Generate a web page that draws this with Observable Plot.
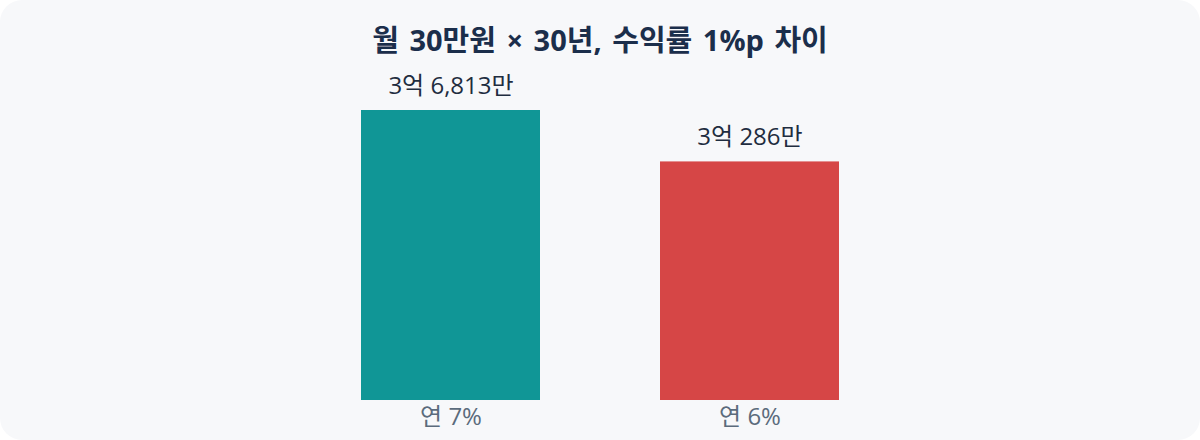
<!DOCTYPE html>
<html><head><meta charset="utf-8">
<script src="https://cdn.jsdelivr.net/npm/d3@7"></script>
<script src="https://cdn.jsdelivr.net/npm/@observablehq/plot@0.6"></script>
<style>
html,body{margin:0;padding:0;background:#ffffff;}
#card{position:relative;width:1200px;height:440px;background:#f7f8fa;border-radius:22px;overflow:hidden;font-family:"Open Sans","Noto Sans CJK KR",sans-serif;}
#title{position:absolute;left:0;top:0;width:1200px;height:50px;line-height:80px;text-align:center;font-size:29px;font-weight:700;color:#1b2e4b;margin:0;word-spacing:3px;}
#chart{position:absolute;left:0;top:50px;}
</style></head>
<body>
<div id="card">
<div id="title">월 30만원 × 30년, 수익률 1%p 차이</div>
<div id="chart"></div>
</div>
<script>
const categories = ["연 7%", "연 6%"];
const values = [36813, 30286];
const valueLabels = ["3억 6,813만", "3억 286만"];
const colors = ["#109696", "#d64646"];

const data = categories.map((c, i) => ({cat: c, value: values[i], label: valueLabels[i], color: colors[i]}));

const chart = Plot.plot({
  width: 1200,
  height: 390,
  marginLeft: 240,
  marginRight: 240,
  marginTop: 60,
  marginBottom: 40,
  style: {background: "transparent", overflow: "visible", fontFamily: "\"Open Sans\", \"Noto Sans CJK KR\", sans-serif"},
  x: {domain: categories, padding: 0.4, label: null},
  y: {domain: [0, d3.max(values)], axis: null},
  marks: [
    Plot.barY(data, {x: "cat", y: "value", fill: "color"}),
    Plot.text(data, {x: "cat", y: "value", text: "label", lineAnchor: "bottom", dy: -17, fontSize: 24, fill: "#1f2d40"}),
    Plot.axisX({tickSize: 0, tickPadding: 7, fontSize: 24, color: "#5b6b7c", label: null})
  ]
});
document.getElementById("chart").appendChild(chart);
</script>
</body></html>
